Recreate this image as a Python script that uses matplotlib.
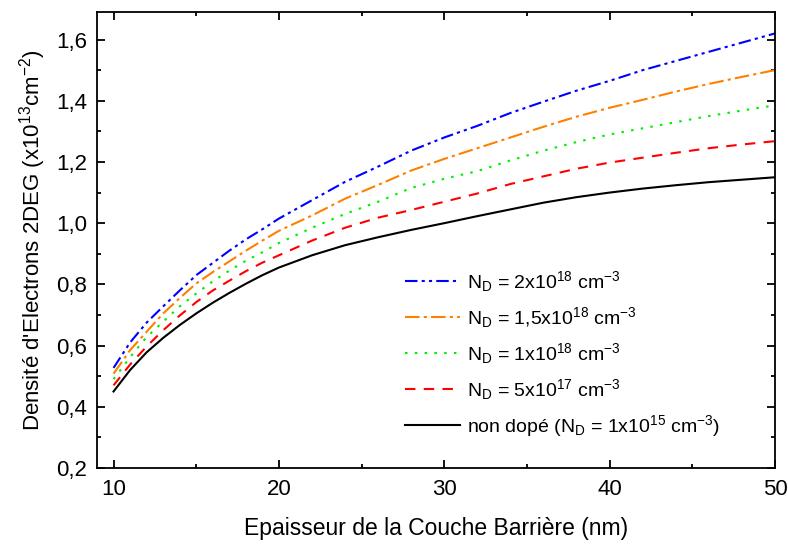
import matplotlib
matplotlib.use("Agg")
import matplotlib.pyplot as plt
from matplotlib.ticker import MultipleLocator, FuncFormatter

plt.rcParams['font.family'] = ['Liberation Sans', 'DejaVu Sans']
plt.rcParams['mathtext.fontset'] = 'custom'
plt.rcParams['mathtext.rm'] = 'Liberation Sans'
plt.rcParams['mathtext.it'] = 'Liberation Sans:italic'

# epaisseur de la couche barriere (nm)
epaisseur = [10, 11, 12, 13, 14, 15, 16, 17, 18, 19, 20, 22, 24, 26, 28,
             30, 32, 34, 36, 38, 40, 42, 44, 46, 48, 50]

# densite 2DEG (x1e13 cm-2)
ns_2e18 = [0.527, 0.61, 0.675, 0.728, 0.78, 0.83, 0.87, 0.91, 0.947, 0.98,
           1.015, 1.075, 1.135, 1.185, 1.237, 1.28, 1.318, 1.36, 1.397,
           1.433, 1.465, 1.5, 1.53, 1.56, 1.59, 1.62]
ns_15e18 = [0.508, 0.585, 0.645, 0.705, 0.755, 0.803, 0.84, 0.875, 0.91,
            0.943, 0.975, 1.025, 1.08, 1.125, 1.172, 1.21, 1.245, 1.28,
            1.315, 1.348, 1.377, 1.403, 1.43, 1.455, 1.478, 1.50]
ns_1e18 = [0.49, 0.562, 0.628, 0.678, 0.728, 0.77, 0.81, 0.845, 0.877,
           0.905, 0.935, 0.985, 1.03, 1.07, 1.115, 1.145, 1.17, 1.205,
           1.237, 1.265, 1.29, 1.31, 1.33, 1.35, 1.368, 1.385]
ns_5e17 = [0.47, 0.538, 0.597, 0.65, 0.698, 0.742, 0.78, 0.812, 0.843,
           0.871, 0.895, 0.943, 0.985, 1.018, 1.043, 1.07, 1.097, 1.128,
           1.153, 1.178, 1.198, 1.214, 1.23, 1.245, 1.257, 1.268]
ns_nd = [0.45, 0.52, 0.578, 0.625, 0.667, 0.705, 0.74, 0.772, 0.802, 0.83,
         0.855, 0.895, 0.928, 0.954, 0.978, 1.0, 1.023, 1.045, 1.067, 1.085,
         1.1, 1.113, 1.124, 1.134, 1.142, 1.15]

labels = [
    r'N$_\mathrm{D}$ = 2x10$^\mathrm{18}$ cm$^\mathrm{-3}$',
    r'N$_\mathrm{D}$ = 1,5x10$^\mathrm{18}$ cm$^\mathrm{-3}$',
    r'N$_\mathrm{D}$ = 1x10$^\mathrm{18}$ cm$^\mathrm{-3}$',
    r'N$_\mathrm{D}$ = 5x10$^\mathrm{17}$ cm$^\mathrm{-3}$',
    r'non dopé (N$_\mathrm{D}$ = 1x10$^\mathrm{15}$ cm$^\mathrm{-3}$)',
]

fig = plt.figure(figsize=(7.88, 5.44), dpi=100)
ax = fig.add_axes([97 / 788, 76 / 544, 678 / 788, 456 / 544])

ax.plot(epaisseur, ns_2e18, color='#0000ff', lw=1.5, ls=(0, (6, 2, 1.5, 2, 1.5, 2)), label=labels[0])
ax.plot(epaisseur, ns_15e18, color='#ff8000', lw=1.5, ls=(0, (7, 2, 1.5, 2)), label=labels[1])
ax.plot(epaisseur, ns_1e18, color='#00ee00', lw=1.5, ls=(0, (1.2, 3.5)), label=labels[2])
ax.plot(epaisseur, ns_5e17, color='#ff0000', lw=1.5, ls=(0, (5, 4)), label=labels[3])
ax.plot(epaisseur, ns_nd, color='black', lw=1.5, label=labels[4])

ax.set_xlim(9, 50)
ax.set_ylim(0.2, 1.69)
ax.xaxis.set_major_locator(MultipleLocator(10))
ax.xaxis.set_minor_locator(MultipleLocator(5))
ax.yaxis.set_major_locator(MultipleLocator(0.2))
ax.yaxis.set_minor_locator(MultipleLocator(0.1))
ax.yaxis.set_major_formatter(FuncFormatter(lambda v, _: '{:.1f}'.format(v).replace('.', ',')))

ax.tick_params(which='both', direction='in', top=True, right=True, width=1.3)
ax.tick_params(which='major', length=6, labelsize=16)
ax.tick_params(axis='x', which='major', pad=8)
ax.tick_params(axis='y', which='major', pad=7)
ax.tick_params(which='minor', length=3)
for sp in ax.spines.values():
    sp.set_linewidth(1.3)

ax.set_xlabel('Epaisseur de la Couche Barrière (nm)', fontsize=16.5, labelpad=12)
ax.set_ylabel(r"Densité d'Electrons 2DEG (x10$^\mathrm{13}$cm$^\mathrm{-2}$)", fontsize=16, labelpad=6)

ax.legend(loc='upper left', bbox_to_anchor=(0.454, 0.436), frameon=False,
          fontsize=14, handlelength=2.85, handletextpad=0.36, labelspacing=0.57,
          borderpad=0, borderaxespad=0)

plt.savefig('out.png', dpi=100)
